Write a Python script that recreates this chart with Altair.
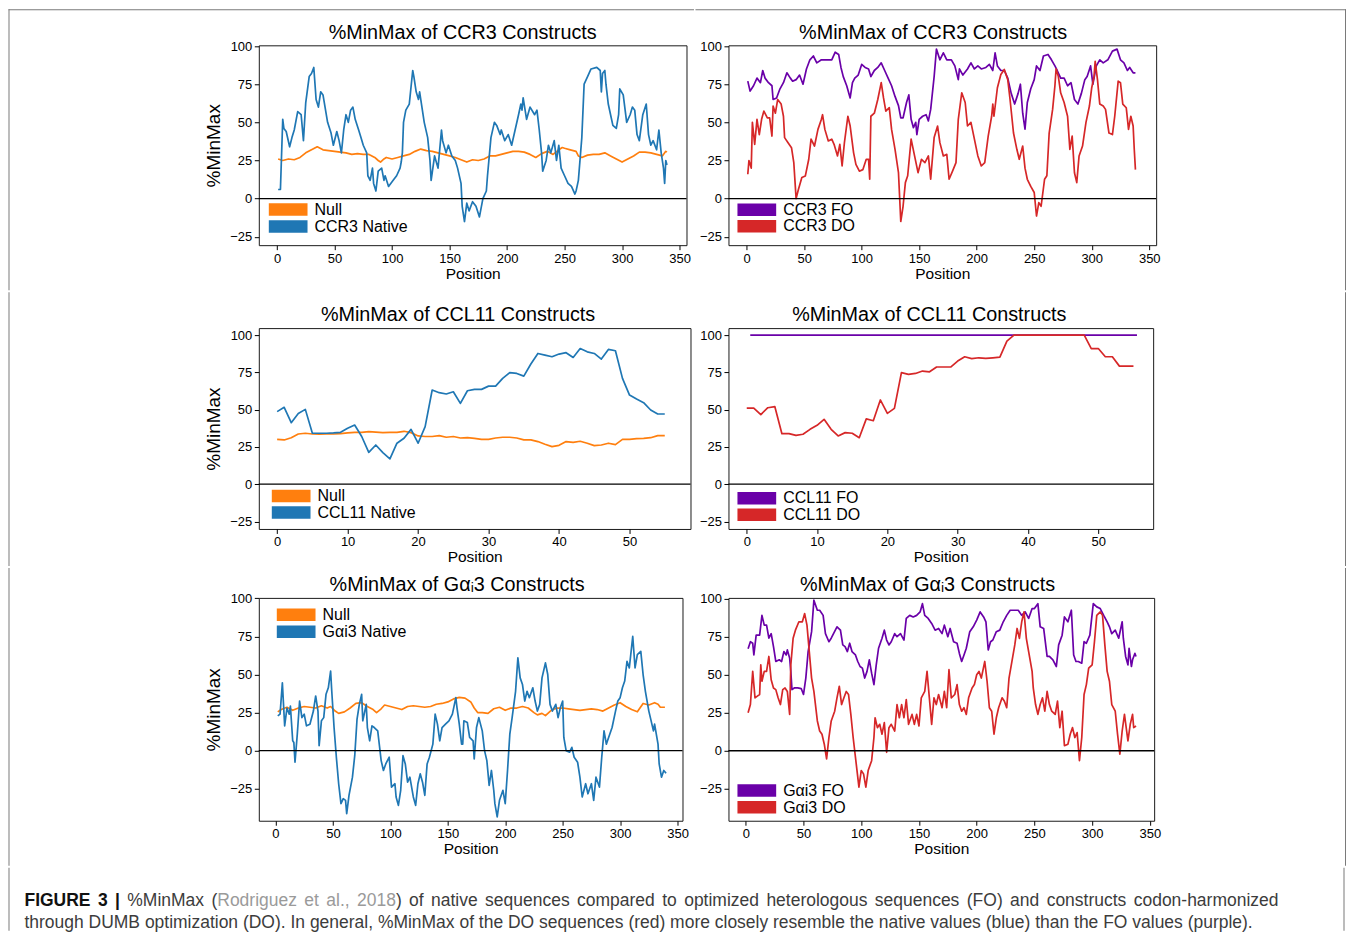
import altair as alt
import pandas as pd

FONT = "Liberation Sans"
BORDER = "#7a7a7a"
FRAME = "#1a1a1a"
BLUE = "#1f77b4"
ORANGE = "#ff7f0e"
PURPLE = "#6a00a8"
RED = "#d62728"

# ---------------- values: [position, %MinMax] ----------------
CCR3_NULL = [[1,26],[5,25],[10,26],[15,25.5],[20,27],[25,30],[30,32],[35,34],[40,32],[45,31.5],[50,31],[55,30.5],[60,30],[65,29],[70,29.5],[75,29],[80,29],[85,27],[88,25],[90,24],[93,26],[95,27],[100,26],[105,27],[110,28],[115,29],[120,31],[125,32.5],[130,31.5],[135,31],[140,30],[145,29],[150,28],[155,27],[160,25.5],[165,24],[170,25.5],[175,25],[180,26],[185,28],[190,28],[195,29],[200,30],[205,31],[210,31],[215,30.5],[220,29],[225,27],[230,29.5],[235,31],[240,29],[245,32],[248,33.5],[250,33],[255,32],[260,31],[262,28],[265,27],[270,28.5],[275,29],[280,29],[285,30],[290,28],[295,26],[300,24],[305,26],[310,28],[315,30.5],[320,30.5],[325,30],[330,29],[335,28],[338,31],[339,30.5]]
CCR3_NATIVE = [[1,6],[3,6],[5,52],[6,46],[8,44],[11,34],[13,40],[15,45],[18,57],[21,55],[23,38],[25,63],[28,80],[30,82],[32,86],[34,65],[36,60],[38,70],[40,68],[44,50],[47,43],[49,35],[52,44],[54,38],[56,30],[58,45],[60,55],[62,50],[64,58],[66,60],[68,52],[71,45],[73,40],[75,35],[78,30],[79,15],[81,12],[83,20],[84,10],[86,5],[88,18],[91,20],[93,12],[94,15],[97,8],[101,12],[104,15],[107,20],[108,24],[109,30],[110,50],[112,58],[115,62],[118,84],[119,80],[121,70],[123,65],[124,70],[126,60],[128,50],[131,40],[133,25],[134,12],[137,28],[140,20],[143,45],[144,38],[147,30],[149,35],[152,28],[155,25],[157,20],[160,10],[161,-5],[163,-15],[165,-3],[167,-8],[170,-2],[173,-5],[176,-12],[179,0],[182,5],[183,15],[186,40],[189,50],[191,48],[194,42],[195,45],[198,38],[201,42],[204,35],[207,45],[210,55],[212,62],[213,58],[214,66],[217,52],[220,60],[224,55],[226,58],[228,45],[230,30],[231,18],[234,25],[236,35],[238,30],[241,38],[243,25],[245,35],[247,20],[250,15],[253,10],[256,8],[259,3],[260,5],[262,12],[265,40],[267,75],[270,80],[273,85],[278,86],[281,84],[282,70],[283,82],[285,84],[286,75],[288,62],[290,55],[292,48],[295,46],[297,55],[298,72],[301,68],[304,50],[307,55],[309,60],[311,58],[313,42],[315,38],[318,55],[321,62],[323,42],[325,35],[327,38],[330,32],[332,45],[334,30],[336,20],[337,10],[338,25],[339,22]]
CCR3_FO = [[1,77],[3,70.5],[6,74],[9,79],[12,76],[14,84],[16,79],[19,76],[22,74],[23,65],[26,66],[29,72],[32,76],[35,82.5],[38,79],[40,77],[43,78],[46,81],[49,75],[52,85],[55,91],[58,93.5],[61,89],[65,91],[69,91],[74,91],[77,96],[80,94.5],[82,86],[84,80],[87,74],[90,66],[92,76],[94,79],[97,81],[100,88],[103,86],[106,85],[108,80],[111,84],[114,86],[117,89],[120,84],[123,79],[126,74],[129,67],[132,61],[134,53],[136,53],[139,63],[141,68],[143,52],[145,46.5],[147,50],[148,42],[150,52],[153,54],[156,55],[158,51],[160,58.5],[163,80],[165,98],[168,91],[171,95.6],[174,91],[178,91],[181,87],[184,78],[185,85],[188,81],[192,85],[195,89],[198,85],[201,87],[204,85],[208,86],[211,88],[214,84],[216,95.6],[218,87],[221,84],[224,84],[227,79],[230,69],[233,62],[236,69],[238,75],[240,56],[242,45.5],[244,63],[247,72],[250,78],[252,87],[255,84],[258,93.5],[262,94.5],[265,91],[268,87],[270,84],[273,79],[276,79],[279,74],[282,76],[285,65],[288,62],[291,69],[294,78],[296,80],[299,87],[301,75],[304,87],[307,91],[310,89],[314,91],[318,96.7],[322,98],[325,91],[328,89],[331,84],[333,86],[336,82.5],[338,82.5]]
CCR3_DO = [[1,16],[2,25],[4,20],[5,50],[7,35.6],[9,52],[11,42],[13,52],[15,57.4],[18,53],[20,53],[22,41],[23,60.7],[25,56],[27,65],[30,62],[32,54],[33,40],[36,36.7],[39,33.4],[41,23.6],[43,0],[45,6],[48,13.8],[51,14.8],[54,25.8],[56,39],[59,34.5],[62,45.4],[65,52],[66,55],[68,45.4],[71,37.8],[74,39],[76,35.6],[79,28],[81,35.6],[83,21.4],[85,36.7],[88,54],[90,47.6],[93,30],[95,22.5],[98,18],[101,19],[104,25.8],[106,25.8],[107,12.7],[108,54],[111,56],[114,65],[117,76],[119,66],[121,57.4],[124,59.6],[126,45.4],[129,32.3],[132,17],[134,-15],[136,-5],[138,10.5],[140,15],[143,39],[146,28],[149,17],[152,25.8],[155,23.6],[158,28],[160,12.7],[163,40],[166,47.6],[168,36.7],[171,28],[174,29],[176,12.7],[179,18],[182,23.6],[184,52],[187,69.4],[190,63],[192,47.6],[195,50],[198,39],[201,28],[204,21.4],[207,23.6],[210,41],[213,54],[214,62],[215,54],[218,72.7],[221,81.4],[224,84.7],[227,78],[229,65],[232,43],[235,32],[237,25.8],[240,34.5],[242,20],[244,12.7],[247,8],[250,4],[252,-11.4],[254,-2.6],[256,-5],[259,12.7],[261,15],[263,43],[266,58.5],[268,74],[269,85],[271,80],[273,69.4],[276,63],[279,54],[281,32.3],[283,41],[285,17],[287,10.5],[289,28],[292,34.5],[295,50],[298,60.7],[300,72.7],[302,80],[303,90],[305,78],[307,62],[310,60.7],[312,58.5],[315,43],[318,42],[320,54],[323,77],[325,76],[327,62],[330,59.6],[332,45.4],[334,54],[336,47.6],[337,32],[338,19]]

CCL11_POS = [0,1,2,3,4,5,6,7,8,9,10,11,12,13,14,15,16,17,18,19,20,21,22,23,24,25,26,27,28,29,30,31,32,33,34,35,36,37,38,39,40,41,42,43,44,45,46,47,48,49,50,51,52,53,54,55]
CCL11_FO_POS = [0.5,1.5,2.5,3.5,4.5,5.5,6.5,7.5,8.5,9.5,10.5,11.5,12.5,13.5,14.5,15.5,16.5,17.5,18.5,19.5,20.5,21.5,22.5,23.5,24.5,25.5,26.5,27.5,28.5,29.5,30.5,31.5,32.5,33.5,34.5,35.5,36.5,37.5,38.5,39.5,40.5,41.5,42.5,43.5,44.5,45.5,46.5,47.5,48.5,49.5,50.5,51.5,52.5,53.5,54.5,55.5]
CCL11_NULL = [30.1,29.7,31.2,33.7,34.2,33.7,33.5,33.7,33.7,33.9,34.4,34.8,34.8,35.3,35,34.6,34.8,34.8,35.5,34.6,32.4,32,32,32.6,31.5,32,31,31.2,30.8,30.1,30.1,31,31.5,31.5,31,29.7,29.7,28.6,26.8,25.2,26.1,28.6,28.1,28.8,27.5,25.9,26.3,27.5,26.6,30.1,30.1,30.6,30.8,31.2,32.6,32.6]
CCL11_NATIVE = [48.7,51.6,41.3,47.5,50.2,34.2,34.2,34.2,34.4,34.8,37.5,39.7,32,21.4,26.3,21.2,17,27.5,30.8,36.8,27.5,38.6,63.2,61.4,60.5,62,54.2,62.7,63.6,63.6,65.8,65.8,71,74.8,74.3,72.5,80.6,87.7,86.6,85.5,87.3,88.2,85,91,88.8,87.7,83.9,90.4,89.5,71,59.8,57.1,54.7,49.8,47.1,47.1]
CCL11_FO = [100,100,100,100,100,100,100,100,100,100,100,100,100,100,100,100,100,100,100,100,100,100,100,100,100,100,100,100,100,100,100,100,100,100,100,100,100,100,100,100,100,100,100,100,100,100,100,100,100,100,100,100,100,100,100,100]
CCL11_DO = [51.1,51.1,46.7,51.3,52,33.9,33.9,32.8,33.5,36.8,39.5,43.5,36.8,32.4,34.6,34.2,31.2,43.8,42.6,56.5,47.5,50.9,74.8,73.7,74.3,75.9,75.4,78.6,78.6,78.6,82.6,85.5,84.2,84.8,84.4,84.8,85.3,96,100,100,100,100,100,100,100,100,100,100,100,91,91,85.5,85.5,79.2,79.2,79.2]

GAI3_NULL = [[2,25.5],[5,27],[10,28.5],[15,26.5],[20,28],[25,29],[30,28.5],[35,28],[40,29.5],[45,28],[48,29],[52,26],[55,24.5],[60,25.5],[65,28],[70,31],[75,31.5],[80,29],[85,27],[88,25],[92,27.5],[95,30],[100,29],[105,28],[110,27],[115,29],[120,29.5],[125,29],[130,28.5],[135,29],[140,30.5],[145,31],[150,32],[155,34],[160,35],[165,34.5],[170,32],[173,28],[176,25],[180,25],[185,24.5],[190,27.5],[195,28.5],[200,26.5],[205,28],[210,28],[215,29],[220,28],[225,25],[228,23.5],[232,24.5],[235,23],[240,26.5],[245,28],[250,28],[255,27.5],[260,27],[265,26.5],[270,27],[275,27.5],[280,27],[285,26],[290,28],[295,30],[300,31.5],[305,29],[310,27],[315,25.5],[320,31],[325,30],[330,31.5],[333,30.5],[335,28.5],[339,28.5]]
GAI3_NATIVE = [[2,22.8],[4,24],[6,44.6],[7,30.4],[8,16.3],[10,28],[12,24],[13,29.3],[15,6.5],[16,5.4],[17,-7.6],[19,10.9],[21,32.6],[23,21.7],[25,24],[27,16.3],[30,17.4],[33,26],[35,35.9],[37,26],[38,3.3],[40,19.6],[42,21.7],[44,37],[46,41.3],[48,52.2],[49,39],[51,15.2],[53,-4.3],[55,-21.7],[57,-34.8],[59,-31.5],[61,-32.6],[62,-41.3],[64,-29.3],[67,-17.4],[69,-3.3],[71,20.7],[73,30.4],[75,37],[76,19.6],[79,30.4],[80,15.2],[82,6.5],[84,16.3],[86,15.2],[89,13],[91,0],[92,-6.5],[94,-13],[96,-8.7],[99,-4.3],[101,-23.9],[104,-21.7],[105,-30.4],[107,-35.9],[109,-26],[111,-3.3],[113,-8.7],[115,-20.7],[117,-17.4],[120,-30.4],[122,-35.9],[124,-21.7],[126,-15.2],[128,-20.7],[130,-29.3],[132,-8.7],[134,-4.3],[137,4.3],[139,24],[141,17.4],[143,6.5],[145,15.2],[148,17.4],[151,19.6],[154,24],[157,34.8],[158,28.3],[160,17.4],[162,4.3],[163,4.3],[164,19.6],[167,18.5],[169,8.7],[172,6.5],[173,-5.4],[175,15.2],[177,21.7],[180,13],[182,0],[184,-6.5],[186,-22.8],[188,-13],[190,-26],[191,-34.8],[193,-43.5],[195,-32.6],[198,-26],[200,-34.8],[202,-13],[204,10.9],[206,21.7],[209,39],[211,60.9],[213,47.8],[215,43.5],[217,32.6],[219,39],[221,34.8],[224,41.3],[226,32.6],[228,26],[230,30.4],[232,47.8],[235,57.6],[237,50],[239,30.4],[241,26],[244,30.4],[246,21.7],[248,28.3],[250,32.6],[251,8.7],[253,0],[256,-1],[258,2.2],[260,-4.3],[263,-7.6],[265,-17.4],[267,-30.4],[270,-21.7],[272,-28.3],[275,-21.7],[277,-32.6],[279,-17.4],[282,-23.9],[284,-4.3],[286,13],[288,4.3],[290,8.7],[293,15.2],[296,26],[298,32.6],[300,34.8],[302,41.3],[304,45.7],[306,58.7],[308,54.3],[311,75],[313,54.3],[315,63],[318,65.2],[320,50],[322,39],[325,26],[327,19.6],[329,13],[330,17.4],[333,4.3],[334,-8.7],[336,-17.4],[338,-13],[340,-14.8]]
GAI3_FO = [[2,67],[4,71.7],[6,70.7],[7,63],[9,76],[12,76],[13,82.6],[14,89],[16,82.6],[18,82.6],[20,74],[22,77],[24,68.5],[26,58.7],[29,59.8],[31,58.7],[33,65.2],[35,63],[36,66.3],[38,60.9],[39,52.2],[40,40.2],[42,41.3],[45,41.3],[48,40.9],[50,37],[52,47.8],[54,65.2],[57,78.3],[59,99],[62,92.4],[64,92.4],[67,89],[69,77],[72,71.7],[74,74],[76,77],[79,81.5],[82,79.3],[84,69.6],[86,68.5],[88,65.2],[90,70.7],[92,65.2],[95,63],[97,58.7],[99,55.4],[101,54.3],[103,47.8],[105,52.2],[107,59.8],[109,51],[111,43.5],[113,56.5],[115,67.4],[118,74],[120,79.3],[122,72.8],[124,69.6],[126,71.7],[129,77],[131,75],[134,77],[137,72.8],[139,87],[142,89],[145,88],[148,89],[151,91.3],[153,96.7],[155,89],[158,87],[161,83.7],[164,79.3],[167,80.4],[170,77],[172,82.6],[175,75],[177,80.4],[180,71.7],[183,70.7],[185,64],[187,58.7],[189,63],[191,67.4],[194,78.3],[197,81.5],[200,85.9],[203,91.3],[206,88],[208,84.8],[210,66.3],[212,71.7],[214,72.8],[217,78.3],[220,79.3],[223,84.8],[226,89],[229,92.4],[233,92.4],[236,92.4],[239,89],[242,91.3],[245,87],[248,93.5],[250,93.5],[253,96.7],[255,81.5],[258,80.4],[261,62],[263,62],[266,59.8],[269,55.4],[271,69.6],[274,76],[276,88],[279,84.8],[282,92.4],[284,63],[286,58.7],[288,58.7],[291,57.6],[293,71.7],[295,70.7],[298,76],[301,96.7],[304,94.6],[307,93.5],[310,89],[313,84.8],[315,81.5],[317,77],[320,79.3],[323,74],[326,84.8],[327,74],[329,62],[331,56.5],[332,67.4],[334,55.4],[335,59.8],[337,64],[338,62]]
GAI3_DO = [[2,25],[4,30.4],[6,52.2],[8,34.8],[10,35.9],[12,37],[13,56.5],[14,45.7],[16,52.2],[18,52.2],[20,62],[22,46.7],[24,41.3],[26,40.2],[28,34.8],[30,30.4],[32,40.2],[34,41.3],[36,39],[38,23.9],[39,56.5],[41,74],[43,79.3],[46,84.8],[49,84.8],[51,90.2],[53,82.6],[55,65.2],[57,47.8],[59,39],[62,19.6],[64,13],[66,10.9],[68,4.3],[70,-5.4],[72,8.7],[74,19.6],[77,26],[79,34.8],[81,42.4],[83,30.4],[85,34.8],[87,39],[89,37],[91,23.9],[93,8.7],[95,-4.3],[98,-23.9],[100,-13],[102,-15.2],[104,-23.9],[106,-13],[109,-6.5],[111,8.7],[112,21.7],[114,15.2],[116,17.4],[118,10.9],[120,18.5],[122,-1],[124,15.2],[126,17.4],[129,13],[131,30.4],[133,21.7],[135,30.4],[137,21.7],[139,33.7],[141,17.4],[144,23.9],[146,17.4],[148,23.9],[150,16.3],[152,34.8],[155,39],[157,52.2],[159,34.8],[161,17.4],[163,34.8],[165,30.4],[167,37],[170,28.3],[172,39],[174,28.3],[176,53.3],[178,34.8],[181,37],[183,43.5],[185,30.4],[187,26],[189,28.3],[191,23.9],[193,34.8],[196,41.3],[198,43.5],[200,50],[202,52.2],[204,47.8],[207,58.7],[209,45.7],[211,28.3],[213,26],[215,10.9],[217,21.7],[219,28.3],[222,34.8],[224,32.6],[226,28.3],[228,47.8],[230,56.5],[233,69.6],[235,80.4],[237,73.9],[239,84.8],[241,91.3],[243,73.9],[245,65.2],[248,52.2],[249,41.3],[251,30.4],[253,23.9],[255,30.4],[257,34.8],[259,26],[261,39],[263,30.4],[265,26],[268,23.9],[270,32.6],[272,15.2],[274,26],[276,3.3],[279,4.3],[281,10.9],[283,15.2],[285,8.7],[287,12],[289,-6.5],[291,8.7],[293,37],[295,43.5],[297,54.3],[300,56.5],[302,71.7],[304,89],[307,91.3],[309,89],[311,69.6],[313,52.2],[315,45.7],[317,30.4],[320,26],[322,10.9],[324,-2.2],[326,13],[328,23.9],[331,6.5],[333,17.4],[335,23.9],[336,15.2],[338,16.3]]

Y_TICKS = [-25, 0, 25, 50, 75, 100]
X_TICKS_LONG = [0, 50, 100, 150, 200, 250, 300, 350]
X_TICKS_SHORT = [0, 10, 20, 30, 40, 50]

TITLES = ["%MinMax of CCR3 Constructs", "%MinMax of CCL11 Constructs", "%MinMax of G\u03b1\u1d623 Constructs"]

CAPTION_LINE1 = [
    [("FIGURE", "b")], [("3", "b")], [("|", "b")], [("%MinMax", "m")],
    [("(", "m"), ("Rodriguez", "c")], [("et", "c")], [("al.,", "c")], [("2018", "c"), (")", "m")],
    [("of", "m")], [("native", "m")], [("sequences", "m")], [("compared", "m")], [("to", "m")],
    [("optimized", "m")], [("heterologous", "m")], [("sequences", "m")], [("(FO)", "m")],
    [("and", "m")], [("constructs", "m")], [("codon-harmonized", "m")],
]
CAPTION_LINE2 = ("through DUMB optimization (DO). In general, %MinMax of the DO sequences (red) more "
                 "closely resemble the native values (blue) than the FO values (purple).")

# Arial / Liberation Sans advance widths (per 1000 em) used to justify caption line 1
AR = {' ': 278, '%': 889, '(': 333, ')': 333, ',': 278, '-': 333, '.': 278, '|': 260,
      'C': 722, 'D': 722, 'F': 611, 'M': 833, 'O': 778, 'R': 722, 'I': 278,
      'a': 556, 'b': 556, 'c': 500, 'd': 556, 'e': 556, 'f': 278, 'g': 556, 'h': 556, 'i': 222,
      'l': 222, 'm': 833, 'n': 556, 'o': 556, 'p': 556, 'q': 556, 'r': 333, 's': 500, 't': 278,
      'u': 556, 'v': 500, 'x': 500, 'y': 500, 'z': 500}
ARB = {'F': 611, 'I': 278, 'G': 778, 'U': 722, 'R': 722, 'E': 667, '3': 556, ' ': 278, '|': 280}
CAP_SIZE = 17.5


def text_width(s, bold):
    tbl = ARB if bold else AR
    return sum(tbl.get(ch, 556) for ch in s) * CAP_SIZE / 1000.0


def pairs_df(pairs):
    return pd.DataFrame({"pos": [p[0] for p in pairs], "val": [p[1] for p in pairs]})


def list_df(pos, vals):
    return pd.DataFrame({"pos": pos, "val": vals})


ONE = pd.DataFrame({"k": [0]})

RB = 617      # right frame line, relative to the right-hand plot's left edge
RL = -33      # left end of the right-hand plot's spacer strip
RB_CAP = 1085.5  # right frame line, relative to the left plot's left edge (caption block)


def bar(x1, x2, y1, y2, col):
    """A thin filled strip (frame line of the whole figure, or a white layout spacer)."""
    return alt.Chart(ONE).mark_rect(color=col, strokeWidth=0).encode(
        x=alt.value(x1), x2=alt.value(x2), y=alt.value(y1), y2=alt.value(y2))


def panel(series, xdom, ydom, xticks, w, h, title, tx, ty, leg, side, rtop, rbot, top_border, ytitle):
    layers = []
    if side == "L":
        hx1, hx2 = (-250.5, 435.5) if top_border else (w, 435.5)
        vx = -250.5
    else:
        hx1, hx2 = (RL, RB + 1) if top_border else (RL, 0)
        vx = RB
    hcol = BORDER if top_border else "#ffffff"
    layers.append(bar(hx1, hx2, rtop, rtop + 1, hcol))
    layers.append(bar(vx, vx + 1, rtop, rbot, BORDER))

    x_enc = alt.X("pos:Q", scale=alt.Scale(domain=xdom, nice=False, zero=False),
                  title="Position",
                  axis=alt.Axis(values=xticks, tickCount=20, labelFlush=False, labelOverlap=False,
                                titleFontSize=15.5, titlePadding=1))
    if ytitle:
        y_enc = alt.Y("val:Q", scale=alt.Scale(domain=ydom, nice=False, zero=False), title="%MinMax",
                      axis=alt.Axis(values=Y_TICKS, tickCount=20, labelFlush=False, labelOverlap=False,
                                    titleFontSize=19, titlePadding=6))
    else:
        y_enc = alt.Y("val:Q", scale=alt.Scale(domain=ydom, nice=False, zero=False), title=None,
                      axis=alt.Axis(values=Y_TICKS, tickCount=20, labelFlush=False, labelOverlap=False))
    for name, df, col in series:
        layers.append(alt.Chart(df).mark_line(strokeWidth=1.7, strokeJoin="round", color=col).encode(
            x=x_enc, y=y_enc))
    layers.append(alt.Chart(ONE).mark_rule(color="black", strokeWidth=1.3).encode(y=alt.datum(0)))

    lx, ly, pitch = leg
    for i, (name, df, col) in enumerate(series):
        y0 = ly + i * pitch
        layers.append(alt.Chart(ONE).mark_rect(color=col).encode(
            x=alt.value(lx), x2=alt.value(lx + 38.75), y=alt.value(y0), y2=alt.value(y0 + 12.5)))
        layers.append(alt.Chart(pd.DataFrame({"t": [name]})).mark_text(
            align="left", baseline="middle", font=FONT, fontSize=16, color="black").encode(
            x=alt.value(lx + 45.75), y=alt.value(y0 + 6.5), text="t:N"))
    layers.append(alt.Chart(pd.DataFrame({"t": [title]})).mark_text(
        align="center", baseline="alphabetic", font=FONT, fontSize=19.8, color="black").encode(
        x=alt.value(tx), y=alt.value(ty), text="t:N"))
    return alt.layer(*layers).properties(width=w, height=h)


XL = [-15.8, 356]
p11 = panel([("Null", pairs_df(CCR3_NULL), ORANGE),
             ("CCR3 Native", pairs_df(CCR3_NATIVE), BLUE)],
            XL, [-30.5, 100.5], X_TICKS_LONG, 428, 200, TITLES[0], 204, -6,
            (10, 158, 17), "L", -36, 245, True, True)
p12 = panel([("CCR3 FO", pairs_df(CCR3_FO), PURPLE),
             ("CCR3 DO", pairs_df(CCR3_DO), RED)],
            XL, [-30.5, 100.5], X_TICKS_LONG, 428, 200, TITLES[0], 204.8, -6,
            (9, 158.4, 16.4), "R", -36, 245, True, False)
p21 = panel([("Null", list_df(CCL11_POS, CCL11_NULL), ORANGE),
             ("CCL11 Native", list_df(CCL11_POS, CCL11_NATIVE), BLUE)],
            [-2.6, 58.65], [-30, 104.7], X_TICKS_SHORT, 432, 201, TITLES[1], 199.4, -7.6,
            (13, 161.7, 16.7), "L", -36, 238, False, True)
p22 = panel([("CCL11 FO", list_df(CCL11_FO_POS, CCL11_FO), PURPLE),
             ("CCL11 DO", list_df(CCL11_POS, CCL11_DO), RED)],
            [-2.6, 57.8], [-30, 104.7], X_TICKS_SHORT, 425, 201, TITLES[1], 201, -7.6,
            (9, 164, 16.6), "R", -36, 238, False, False)
p31 = panel([("Null", pairs_df(GAI3_NULL), ORANGE),
             ("G\u03b1i3 Native", pairs_df(GAI3_NATIVE), BLUE)],
            [-14.5, 354.3], [-46, 100.3], X_TICKS_LONG, 424, 223, TITLES[2], 198.5, -6.7,
            (18, 10.6, 17), "L", -30, 268, False, True)
p32 = panel([("G\u03b1i3 FO", pairs_df(GAI3_FO), PURPLE),
             ("G\u03b1i3 DO", pairs_df(GAI3_DO), RED)],
            [-15, 353.7], [-46, 100.5], X_TICKS_LONG, 426, 223, TITLES[2], 199.2, -6.7,
            (9, 186.6, 16.7), "R", -30, 268, False, False)

row1 = alt.hconcat(p11, p12, spacing=0)
row2 = alt.hconcat(p21, p22, spacing=0)
row3 = alt.hconcat(p31, p32, spacing=0)

# ---- caption: frame origin is aligned with the left plot's left edge ----
CAP_X0 = -234.5      # left edge of caption text
CAP_X1 = 1020.5      # right edge of justified first line
widths = []
for word in CAPTION_LINE1:
    widths.append(sum(text_width(t, st == "b") for t, st in word))
gap = (CAP_X1 - CAP_X0 - sum(widths)) / (len(CAPTION_LINE1) - 1)
pieces = {"b": [], "m": [], "c": []}
x = CAP_X0
for word, wd in zip(CAPTION_LINE1, widths):
    xx = x
    for t, st in word:
        pieces[st].append({"px": xx, "t": t})
        xx += text_width(t, st == "b")
    x += wd + gap

cap_layers = [bar(-250.5, -249.5, 0, 63, BORDER), bar(RB_CAP, RB_CAP + 1, 0, 63, BORDER)]
styles = {"b": ("#111111", "bold"), "m": ("#3c3c3c", "normal"), "c": ("#9a9a9a", "normal")}
for st, rows in pieces.items():
    col, fw = styles[st]
    cap_layers.append(alt.Chart(pd.DataFrame(rows)).mark_text(
        align="left", baseline="alphabetic", font=FONT, fontSize=CAP_SIZE, fontWeight=fw, color=col).encode(
        x=alt.X("px:Q", scale=None, axis=None), y=alt.value(38.5), text="t:N"))
cap_layers.append(alt.Chart(pd.DataFrame({"t": [CAPTION_LINE2]})).mark_text(
    align="left", baseline="alphabetic", font=FONT, fontSize=CAP_SIZE, color="#3c3c3c").encode(
    x=alt.value(CAP_X0), y=alt.value(60), text="t:N"))
caption = alt.layer(*cap_layers).properties(
    width=900, height=60, view=alt.ViewBackground(stroke="transparent"))

chart = alt.vconcat(row1, row2, row3, caption, spacing=0).properties(
    padding={"left": 0, "top": 0, "right": 0, "bottom": 0}
).configure(font=FONT).configure_view(stroke=FRAME, strokeWidth=1).configure_axis(
    labelFont=FONT, titleFont=FONT, labelColor="black", titleColor="black",
    tickColor="black", tickSize=4.5, tickWidth=1, labelFontSize=13, labelPadding=2.5,
    labelOverlap=False, domain=False, grid=False, titleFontWeight="normal")

chart.save("out.html", embed_options={"renderer": "svg", "actions": False})
